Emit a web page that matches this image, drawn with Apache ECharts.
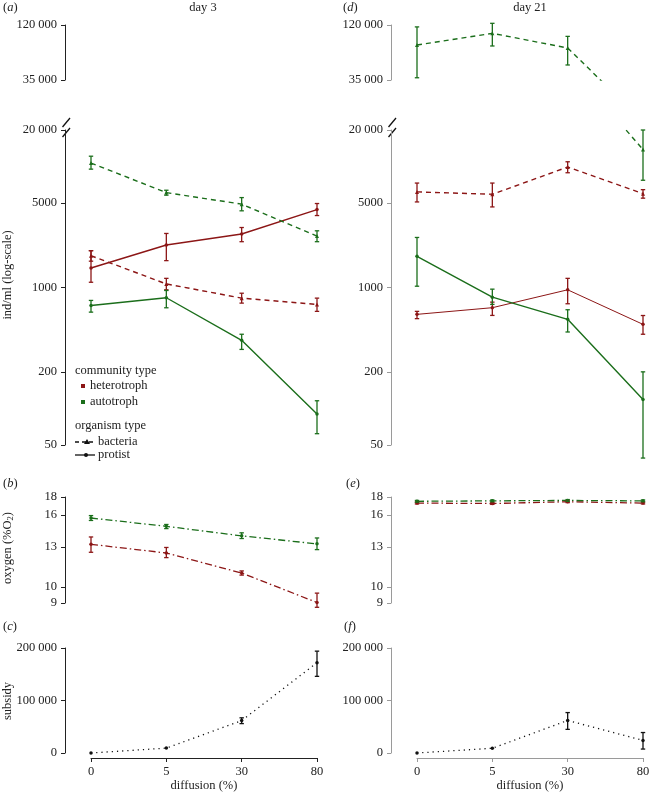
<!DOCTYPE html>
<html><head><meta charset="utf-8">
<script src="https://cdn.jsdelivr.net/npm/echarts@6/dist/echarts.min.js"></script>
<style>html,body{margin:0;padding:0;background:#fff}#c{width:669px;height:793px}</style>
</head><body><div id="c"></div>
<script>
// ---------- DATA ----------
const categories = ['0', '5', '30', '80']; // diffusion (%)
const densTicksTop = [35000, 120000];
const densTicksBot = [50, 200, 1000, 5000, 20000];
const oxyTicks = [9, 10, 13, 16, 18];
const subsidyTicks = [0, 100000, 200000];

// Day 3 densities (ind/ml)
const d3HetBact = [1830, 1070, 817, 725];
const d3HetBactLo = [1650, 957, 743, 635];
const d3HetBactHi = [2015, 1190, 897, 817];
const d3HetProt = [1450, 2245, 2765, 4400];
const d3HetProtLo = [1105, 1667, 2390, 3930];
const d3HetProtHi = [2015, 2795, 3130, 4940];
const d3AutBact = [10670, 6080, 4880, 2660];
const d3AutBactLo = [9500, 5790, 4300, 2390];
const d3AutBactHi = [12150, 6360, 5530, 2940];
const d3AutProt = [711, 823, 366, 90];
const d3AutProtLo = [626, 680, 308, 62];
const d3AutProtHi = [782, 945, 411, 116];

// Day 21 densities (ind/ml)
const d21HetBact = [6160, 5890, 9890, 5960];
const d21HetBactLo = [5090, 4630, 8870, 5470];
const d21HetBactHi = [7290, 7290, 10930, 6430];
const d21HetProt = [600, 681, 957, 496];
const d21HetProtLo = [553, 588, 734, 411];
const d21HetProtHi = [635, 757, 1190, 587];
const d21AutBact = [76700, 99600, 71700, 13800];
const d21AutBactLo = [36800, 75000, 49000, 7690];
const d21AutBactHi = [115000, 124600, 93000, 20000];
const d21AutProt = [1810, 832, 546, 119];
const d21AutProtLo = [1025, 725, 429, 39];
const d21AutProtHi = [2590, 969, 655, 201];

// Oxygen (%O2)
const d3OxyHet = [13.21, 12.48, 10.95, 9.03];
const d3OxyHetLo = [12.54, 12.11, 10.8, 8.75];
const d3OxyHetHi = [13.86, 12.94, 11.1, 9.6];
const d3OxyAut = [15.69, 14.86, 13.96, 13.25];
const d3OxyAutLo = [15.44, 14.64, 13.72, 12.76];
const d3OxyAutHi = [15.94, 15.04, 14.24, 13.77];
const d21OxyHet = [17.3, 17.25, 17.45, 17.3];
const d21OxyHetLo = [17.2, 17.15, 17.35, 17.2];
const d21OxyHetHi = [17.4, 17.35, 17.55, 17.4];
const d21OxyAut = [17.5, 17.55, 17.6, 17.55];
const d21OxyAutLo = [17.4, 17.45, 17.5, 17.45];
const d21OxyAutHi = [17.6, 17.65, 17.7, 17.65];

// Subsidy
const d3Subsidy = [0, 9300, 61700, 172000];
const d3SubsidyLo = [0, 9300, 56000, 146000];
const d3SubsidyHi = [0, 9300, 67000, 194000];
const d21Subsidy = [0, 9000, 62000, 24000];
const d21SubsidyLo = [0, 9000, 45000, 7500];
const d21SubsidyHi = [0, 9000, 77000, 39000];

// ---------- STYLE ----------
const RED = '#8c1616', GREEN = '#1b6e1b', FONT = 'Liberation Serif';
const chart = echarts.init(document.getElementById('c'), null, {renderer: 'canvas'});

const fmt = v => { v = Math.round(v); return v >= 10000 ? String(v).replace(/\B(?=(\d{3})+(?!\d))/g, ' ') : String(v); };

const colL = 91, colR = 417, colW = 226;
const rows = [
  {top: 25, height: 55},   // density top (break)
  {top: 130, height: 315}, // density bottom
  {top: 497, height: 106}, // oxygen
  {top: 648, height: 107}  // subsidy
];
const grids = [], xAxes = [], yAxes = [], series = [];
[colL, colR].forEach((left, c) => {
  rows.forEach((r, ri) => {
    grids.push({left: left, width: colW, top: r.top, height: r.height});
    const gi = grids.length - 1;
    const axisCol = c === 0 ? '#222' : '#9a9a9a';
    xAxes.push({
      gridIndex: gi, type: 'category', data: categories, boundaryGap: false,
      show: ri === 3, offset: 5,
      axisLine: {onZero: false, lineStyle: {color: axisCol, width: 1}},
      axisTick: {length: 4, lineStyle: {color: axisCol}},
      axisLabel: {fontFamily: FONT, fontSize: 12.5, color: '#222', margin: 7},
      name: 'diffusion (%)', nameLocation: 'middle', nameGap: 21,
      nameTextStyle: {fontFamily: FONT, fontSize: 12.5, color: '#222'}
    });
    const base = {
      gridIndex: gi, offset: 26, splitLine: {show: false},
      axisLine: {show: true, lineStyle: {color: axisCol, width: 1}},
      axisTick: {show: true, length: 4, lineStyle: {color: axisCol}},
      axisLabel: {fontFamily: FONT, fontSize: 12.5, color: '#222', margin: 8, formatter: fmt,
        showMinLabel: true, showMaxLabel: true}
    };
    const withTicks = (t) => ({
      axisTick: Object.assign({}, base.axisTick, {customValues: t}),
      axisLabel: Object.assign({}, base.axisLabel, {customValues: t})
    });
    if (ri === 0) Object.assign(base, {type: 'log', min: 35000, max: 120000}, withTicks(densTicksTop));
    if (ri === 1) Object.assign(base, {type: 'log', min: 50, max: 20000}, withTicks(densTicksBot));
    if (ri === 2) Object.assign(base, {type: 'log', min: 9, max: 18}, withTicks(oxyTicks));
    if (ri === 3) Object.assign(base, {type: 'value', min: 0, max: 200000}, withTicks(subsidyTicks));
    yAxes.push(base);
  });
});

function errRender(color) {
  return function (params, api) {
    const x = api.value(0);
    const p1 = api.coord([x, api.value(1)]);
    const p2 = api.coord([x, api.value(2)]);
    const w = 2.2;
    const st = {stroke: color, lineWidth: 1.3};
    return {type: 'group', children: [
      {type: 'line', shape: {x1: p1[0], y1: p1[1], x2: p2[0], y2: p2[1]}, style: st},
      {type: 'line', shape: {x1: p1[0] - w, y1: p1[1], x2: p1[0] + w, y2: p1[1]}, style: st},
      {type: 'line', shape: {x1: p2[0] - w, y1: p2[1], x2: p2[0] + w, y2: p2[1]}, style: st}
    ]};
  };
}

function addSeries(gi, vals, lo, hi, color, dash, symbol, width, range) {
  series.push({
    type: 'line', xAxisIndex: gi, yAxisIndex: gi, data: vals, clip: true,
    symbol: symbol, symbolSize: symbol === 'triangle' ? 4 : 3.5,
    itemStyle: {color: color},
    lineStyle: {color: color, width: width, type: dash},
    silent: true, animation: false, z: 3
  });
  const ed = [];
  vals.forEach((v, i) => {
    if (lo[i] !== hi[i] && (!range || (v >= range[0] && v <= range[1]))) ed.push([i, lo[i], hi[i]]);
  });
  series.push({
    type: 'custom', xAxisIndex: gi, yAxisIndex: gi, data: ed,
    encode: {x: 0, y: [1, 2]}, renderItem: errRender(color), silent: true, animation: false, z: 4
  });
}

const DASH = [5, 4];
const DOTDASH = [7, 3, 1.5, 3];
const DOT = [1.2, 4];
// Density panels: both broken sections
[[0, 1, 'd3'], [4, 5, 'd21']].forEach(([gTop, gBot, d]) => {
  const S = d === 'd3'
    ? {hb: [d3HetBact, d3HetBactLo, d3HetBactHi], hp: [d3HetProt, d3HetProtLo, d3HetProtHi],
       ab: [d3AutBact, d3AutBactLo, d3AutBactHi], ap: [d3AutProt, d3AutProtLo, d3AutProtHi], hpw: 1.4}
    : {hb: [d21HetBact, d21HetBactLo, d21HetBactHi], hp: [d21HetProt, d21HetProtLo, d21HetProtHi],
       ab: [d21AutBact, d21AutBactLo, d21AutBactHi], ap: [d21AutProt, d21AutProtLo, d21AutProtHi], hpw: 1};
  [[gTop, [35000, 120000]], [gBot, [50, 20000]]].forEach(([g, rg]) => {
    addSeries(g, S.hb[0], S.hb[1], S.hb[2], RED, DASH, 'triangle', 1.4, rg);
    addSeries(g, S.hp[0], S.hp[1], S.hp[2], RED, 'solid', 'circle', S.hpw, rg);
    addSeries(g, S.ab[0], S.ab[1], S.ab[2], GREEN, DASH, 'triangle', 1.4, rg);
    addSeries(g, S.ap[0], S.ap[1], S.ap[2], GREEN, 'solid', 'circle', 1.4, rg);
  });
});
// Oxygen
addSeries(2, d3OxyHet, d3OxyHetLo, d3OxyHetHi, RED, DOTDASH, 'circle', 1.3);
addSeries(2, d3OxyAut, d3OxyAutLo, d3OxyAutHi, GREEN, DOTDASH, 'circle', 1.3);
addSeries(6, d21OxyHet, d21OxyHetLo, d21OxyHetHi, RED, DOTDASH, 'circle', 1.3);
addSeries(6, d21OxyAut, d21OxyAutLo, d21OxyAutHi, GREEN, DOTDASH, 'circle', 1.3);
// Subsidy
addSeries(3, d3Subsidy, d3SubsidyLo, d3SubsidyHi, '#111', DOT, 'circle', 1.3);
addSeries(7, d21Subsidy, d21SubsidyLo, d21SubsidyHi, '#111', DOT, 'circle', 1.3);

// ---------- ANNOTATIONS ----------
const txt = (x, y, text, opts) => ({
  type: 'text', x: x, y: y, silent: true,
  style: Object.assign({text: text, fontFamily: FONT, fontSize: 12.5, fill: '#222',
    textAlign: 'left', textVerticalAlign: 'middle', rich: {it: {fontStyle: 'italic', fontFamily: FONT, fontSize: 12.5, fill: '#222'}}}, opts || {})
});
const rot = (x, y, text, extra) => ({
  type: 'text', x: x, y: y, rotation: Math.PI / 2, silent: true,
  style: Object.assign({text: text, fontFamily: FONT, fontSize: 12.5, fill: '#222', textAlign: 'center', textVerticalAlign: 'middle'}, extra || {})
});
const ln = (x1, y1, x2, y2, color, w, dash) => ({type: 'line', silent: true,
  shape: {x1, y1, x2, y2}, style: {stroke: color, lineWidth: w || 1.3, lineDash: dash || null}});

const graphic = [
  txt(3, 8, '({it|a})'), txt(343, 8, '({it|d})'),
  txt(3, 484, '({it|b})'), txt(346, 484, '({it|e})'),
  txt(3, 627, '({it|c})'), txt(344, 627, '({it|f})'),
  txt(203, 8, 'day 3', {textAlign: 'center'}),
  txt(530, 8, 'day 21', {textAlign: 'center'}),
  rot(8, 275, 'ind/ml (log-scale)'),
  rot(8, 548, 'oxygen (%O{sub|2})', {rich: {sub: {fontFamily: FONT, fontSize: 8.5, fill: '#222', verticalAlign: 'bottom', padding: [6, 0, 0, 0]}}}),
  rot(8, 701, 'subsidy'),
  // axis break marks
  ln(62.5, 127, 70, 118, '#111'), ln(62.5, 137, 70, 128, '#111'),
  ln(388.5, 127, 396, 118, '#111'), ln(388.5, 137, 396, 128, '#111'),
  // legend
  txt(75, 371, 'community type'),
  {type: 'rect', silent: true, shape: {x: 81, y: 384, width: 4, height: 4}, style: {fill: RED}},
  txt(90, 386, 'heterotroph'),
  {type: 'rect', silent: true, shape: {x: 81, y: 400, width: 4, height: 4}, style: {fill: GREEN}},
  txt(90, 402, 'autotroph'),
  txt(75, 426, 'organism type'),
  ln(75, 442, 95, 442, '#111', 1.3, [4, 3]),
  {type: 'polygon', silent: true, shape: {points: [[87, 439], [84, 444], [90, 444]]}, style: {fill: '#111'}},
  txt(98, 442, 'bacteria'),
  ln(75, 455, 95, 455, '#111', 1.3),
  {type: 'circle', silent: true, shape: {cx: 86, cy: 455, r: 2}, style: {fill: '#111'}},
  txt(98, 455, 'protist')
];

chart.setOption({
  animation: false, backgroundColor: '#fff',
  grid: grids, xAxis: xAxes, yAxis: yAxes, series: series, graphic: graphic
});
</script>
</body></html>
